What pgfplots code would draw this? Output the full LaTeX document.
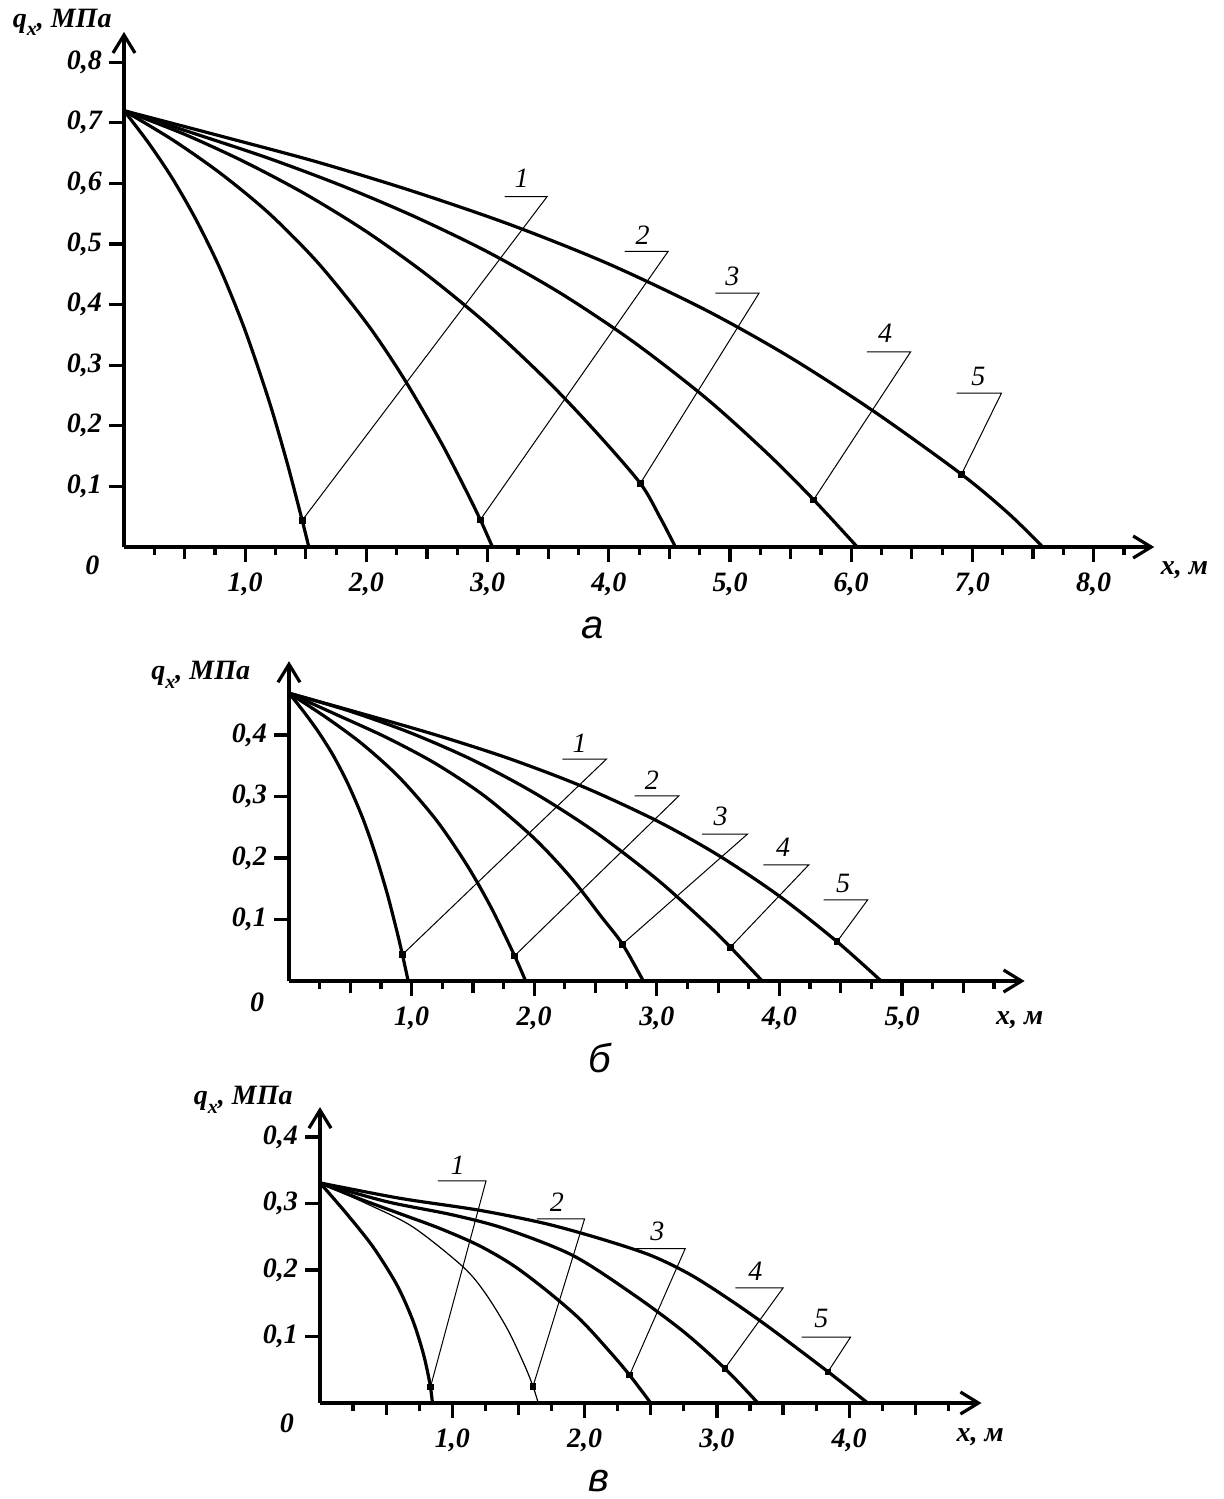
\documentclass[border=0pt]{standalone}
\usepackage{fontspec}
\setmainfont{Liberation Serif}
\newfontfamily\sansf{Liberation Sans}
\usepackage{pgfplots}
\pgfplotsset{compat=1.18}
\usetikzlibrary{arrows.meta}

\pgfplotsset{
  myax/.style={
    anchor=south west,
    axis lines=left,
    enlargelimits=false,
    clip=false,
    axis line style={line width=1.7pt, -{Straight Barb[length=9pt,width=11pt,line width=1.6pt]}},
    tick style={line width=1.6pt, black},
    major tick length=7.5pt,
    minor tick length=4pt,
    tick align=outside,
    xtick pos=bottom, ytick pos=left,
    /pgf/number format/fixed,
    /pgf/number format/fixed zerofill,
    /pgf/number format/precision=1,
    /pgf/number format/use comma,
    /pgf/number format/assume math mode=true,
    ticklabel style={font=\fontsize{14}{16}\selectfont\bfseries\itshape},
    xticklabel style={yshift=-2pt},
    extra x tick labels={},
    extra x tick style={major tick length=6pt},
  },
  crv/.style={line width=1.6pt, black, smooth, tension=0.5, no marks},
  thincrv/.style={line width=0.6pt, black, smooth, tension=0.5, no marks},
  mk/.style={only marks, mark=square*, mark size=1.4pt, black},
  ldr/.style={line width=0.5pt, black, no marks, sharp plot},
}
\newcommand{\lblfont}{\fontsize{14}{16}\selectfont\bfseries\itshape}
\newcommand{\numfont}{\fontsize{14}{16}\selectfont\itshape}
\newcommand{\qlabel}{q\raisebox{-0.3em}{\fontsize{10}{11}\selectfont x}, МПа}
\newcommand{\panelfont}{\sansf\itshape\fontsize{20}{22}\selectfont}

\begin{document}
\begin{tikzpicture}
\path[use as bounding box] (0,0) rectangle (612pt,-749.5pt);

% ---------------- panel a ----------------
\begin{axis}[myax, at={(62pt,-273.5pt)},
  x=60.6pt, y=303pt,
  xmin=0, xmax=8.5, ymin=0, ymax=0.85,
  xtick={1,2,...,8},
  minor xtick={0.25,0.75,...,8.25},
  extra x ticks={0.5,1.5,...,7.5},
  ytick={0.1,0.2,...,0.8},
]
\addplot[crv] coordinates {(0,0.72) (0.2,0.6675) (0.4,0.608) (0.6,0.538) (0.8,0.456) (1.0,0.357) (1.2,0.239) (1.35,0.136) (1.47,0.044) (1.525,0)};
\addplot[crv] coordinates {(0,0.72) (0.4,0.672) (0.8,0.616) (1.2,0.550) (1.6,0.469) (2.0,0.370) (2.3,0.281) (2.6,0.1785) (2.8,0.102) (2.94,0.045) (3.04,0)};
\addplot[crv] coordinates {(0,0.72) (0.5,0.681) (1.0,0.635) (1.5,0.582) (2.0,0.5205) (2.5,0.449) (3.0,0.367) (3.5,0.273) (3.9,0.1885) (4.26,0.105) (4.42,0.05) (4.55,0)};
\addplot[crv] coordinates {(0,0.72) (0.6,0.681) (1.2,0.641) (1.8,0.596) (2.4,0.545) (3.0,0.487) (3.6,0.419) (4.2,0.339) (4.8,0.246) (5.3,0.156) (5.69,0.078) (6.05,0)};
\addplot[crv] coordinates {(0,0.72) (0.8,0.678) (1.6,0.635) (2.4,0.586) (3.2,0.531) (4.0,0.467) (4.8,0.391) (5.5,0.3125) (6.2,0.222) (6.91,0.12) (7.3,0.055) (7.58,0)};
\addplot[mk] coordinates {(1.47,0.044) (2.94,0.045) (4.26,0.105) (5.69,0.078) (6.91,0.12)};
\addplot[ldr] coordinates {(3.14,0.578) (3.49,0.578) (1.47,0.044)};
\addplot[ldr] coordinates {(4.13,0.488) (4.49,0.488) (2.94,0.045)};
\addplot[ldr] coordinates {(4.88,0.419) (5.24,0.419) (4.26,0.105)};
\addplot[ldr] coordinates {(6.13,0.322) (6.49,0.322) (5.69,0.078)};
\addplot[ldr] coordinates {(6.87,0.254) (7.24,0.254) (6.91,0.12)};
\node[font=\numfont] at (axis cs:3.28,0.608) {1};
\node[font=\numfont] at (axis cs:4.28,0.514) {2};
\node[font=\numfont] at (axis cs:5.02,0.446) {3};
\node[font=\numfont] at (axis cs:6.28,0.352) {4};
\node[font=\numfont] at (axis cs:7.05,0.281) {5};
\node[font=\lblfont] at (axis cs:-0.51,0.866) {\qlabel};
\node[font=\lblfont] at (axis cs:8.75,-0.038) {x, м};
\node[font=\lblfont] at (axis cs:-0.26,-0.03) {0};
\end{axis}

% ---------------- panel b ----------------
\begin{axis}[myax, at={(144.5pt,-490.5pt)},
  x=61.3pt, y=307.5pt,
  xmin=0, xmax=6.0, ymin=0, ymax=0.52,
  xtick={1,2,...,5},
  minor xtick={0.25,0.75,...,5.75},
  extra x ticks={0.5,1.5,...,5.5},
  ytick={0.1,0.2,...,0.4},
]
\addplot[crv] coordinates {(0,0.468) (0.12,0.438) (0.24,0.405) (0.36,0.367) (0.48,0.321) (0.6,0.2655) (0.7,0.209) (0.8,0.1428) (0.88,0.081) (0.925,0.043) (0.972,0)};
\addplot[crv] coordinates {(0,0.468) (0.3,0.429) (0.6,0.385) (0.9,0.331) (1.2,0.262) (1.45,0.189) (1.65,0.119) (1.84,0.041) (1.93,0)};
\addplot[crv] coordinates {(0,0.468) (0.4,0.432) (0.8,0.3955) (1.2,0.353) (1.6,0.300) (2.0,0.232) (2.3,0.168) (2.55,0.104) (2.72,0.06) (2.89,0)};
\addplot[crv] coordinates {(0,0.468) (0.5,0.4386) (1.0,0.4028) (1.5,0.3592) (2.0,0.306) (2.5,0.242) (3.0,0.1656) (3.4,0.0943) (3.6,0.055) (3.86,0)};
\addplot[crv] coordinates {(0,0.468) (0.6,0.4345) (1.2,0.400) (1.8,0.3614) (2.4,0.3158) (3.0,0.2605) (3.5,0.2047) (4.0,0.138) (4.47,0.064) (4.83,0)};
\addplot[mk] coordinates {(0.925,0.043) (1.84,0.041) (2.72,0.06) (3.60,0.055) (4.47,0.064)};
\addplot[ldr] coordinates {(2.23,0.361) (2.59,0.361) (0.925,0.043)};
\addplot[ldr] coordinates {(2.82,0.301) (3.18,0.301) (1.84,0.041)};
\addplot[ldr] coordinates {(3.37,0.239) (3.74,0.239) (2.72,0.06)};
\addplot[ldr] coordinates {(3.87,0.189) (4.24,0.189) (3.60,0.055)};
\addplot[ldr] coordinates {(4.36,0.132) (4.72,0.132) (4.47,0.064)};
\node[font=\numfont] at (axis cs:2.37,0.386) {1};
\node[font=\numfont] at (axis cs:2.96,0.326) {2};
\node[font=\numfont] at (axis cs:3.52,0.267) {3};
\node[font=\numfont] at (axis cs:4.03,0.217) {4};
\node[font=\numfont] at (axis cs:4.52,0.158) {5};
\node[font=\lblfont] at (axis cs:-0.72,0.498) {\qlabel};
\node[font=\lblfont] at (axis cs:5.96,-0.063) {x, м};
\node[font=\lblfont] at (axis cs:-0.26,-0.034) {0};
\end{axis}

% ---------------- panel c ----------------
\begin{axis}[myax, at={(160pt,-701.5pt)},
  x=66.15pt, y=332.5pt,
  xmin=0, xmax=5.0, ymin=0, ymax=0.445,
  xtick={1,2,...,4},
  minor xtick={0.25,0.75,...,4.75},
  extra x ticks={0.5,1.5,...,4.5},
  ytick={0.1,0.2,...,0.4},
]
\addplot[crv] coordinates {(0,0.331) (0.2,0.285) (0.4,0.235) (0.58,0.178) (0.70,0.125) (0.78,0.075) (0.83,0.03) (0.85,0)};
\addplot[thincrv] coordinates {(0,0.331) (0.35,0.30) (0.70,0.265) (1.08,0.205) (1.25,0.165) (1.42,0.11) (1.55,0.055) (1.61,0.025) (1.65,0)};
\addplot[crv] coordinates {(0,0.331) (0.3,0.307) (0.6,0.285) (0.9,0.263) (1.2,0.237) (1.46,0.207) (1.72,0.168) (1.97,0.125) (2.2,0.075) (2.34,0.042) (2.5,0)};
\addplot[crv] coordinates {(0,0.331) (0.5,0.303) (1.0,0.283) (1.4,0.262) (1.91,0.222) (2.37,0.163) (2.75,0.107) (3.06,0.052) (3.31,0)};
\addplot[crv] coordinates {(0,0.331) (0.6,0.308) (1.2,0.29) (1.7,0.27) (2.12,0.247) (2.5,0.222) (2.8,0.193) (3.1,0.155) (3.4,0.113) (3.84,0.047) (4.14,0)};
\addplot[mk] coordinates {(0.835,0.024) (1.61,0.025) (2.34,0.042) (3.06,0.052) (3.84,0.047)};
\addplot[ldr] coordinates {(0.89,0.334) (1.255,0.334) (0.835,0.024)};
\addplot[ldr] coordinates {(1.64,0.277) (2.0,0.277) (1.61,0.025)};
\addplot[ldr] coordinates {(2.39,0.232) (2.76,0.232) (2.34,0.042)};
\addplot[ldr] coordinates {(3.14,0.173) (3.5,0.173) (3.06,0.052)};
\addplot[ldr] coordinates {(3.64,0.099) (4.01,0.099) (3.84,0.047)};
\node[font=\numfont] at (axis cs:1.04,0.357) {1};
\node[font=\numfont] at (axis cs:1.79,0.302) {2};
\node[font=\numfont] at (axis cs:2.55,0.258) {3};
\node[font=\numfont] at (axis cs:3.29,0.198) {4};
\node[font=\numfont] at (axis cs:3.79,0.127) {5};
\node[font=\lblfont] at (axis cs:-0.58,0.456) {\qlabel};
\node[font=\lblfont] at (axis cs:4.99,-0.051) {x, м};
\node[font=\lblfont] at (axis cs:-0.25,-0.03) {0};
\end{axis}

\node[font=\panelfont, anchor=base] at (296.5pt,-319pt) {а};
\node[font=\panelfont, anchor=base] at (300pt,-536pt) {б};
\node[font=\panelfont, anchor=base, inner sep=0pt] at (299.5pt,-745.5pt) {в};
\end{tikzpicture}
\end{document}
